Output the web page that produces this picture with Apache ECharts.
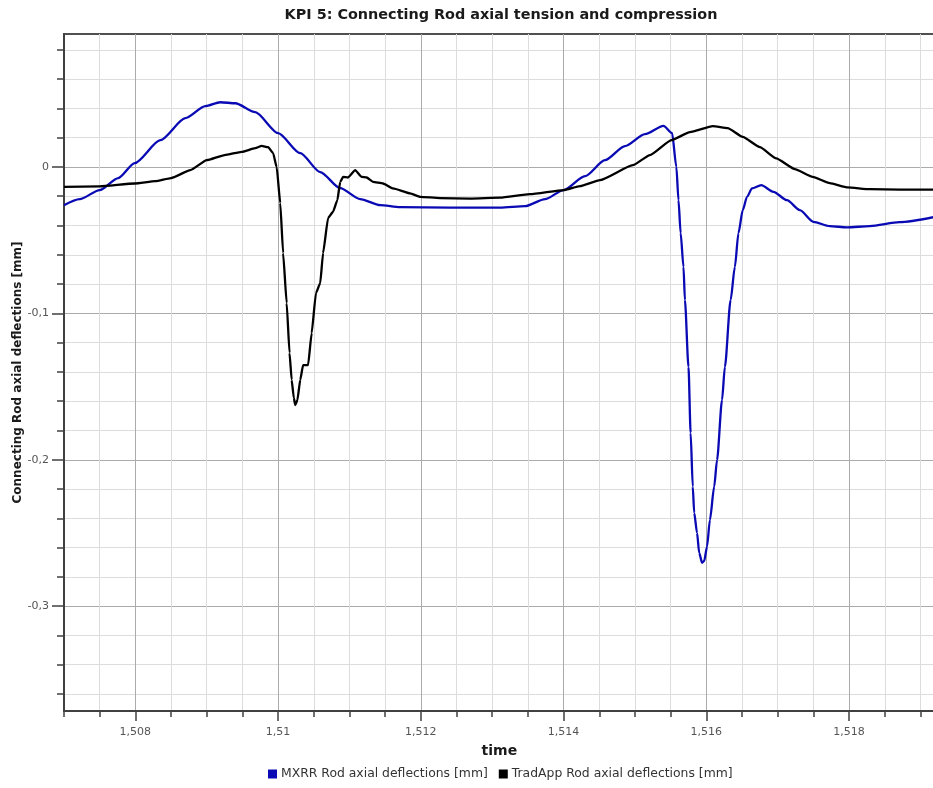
<!DOCTYPE html>
<html><head><meta charset="utf-8">
<script src="https://cdn.jsdelivr.net/npm/echarts@6/dist/echarts.min.js"></script>
<style>html,body{margin:0;padding:0;background:#fff}#c{width:933px;height:788px}</style>
</head><body><div id="c"></div>
<script>
// ---- text ----
const chartTitle = 'KPI 5: Connecting Rod axial tension and compression';
const xName = 'time';
const yName = 'Connecting Rod axial deflections [mm]';
const seriesNames = ['MXRR Rod axial deflections [mm]', 'TradApp Rod axial deflections [mm]'];
const seriesColors = ['#0a0ab4', '#000000'];

// ---- data ----
const mxrrX = [1.50700,1.50722,1.50750,1.50776,1.50799,1.50835,1.50870,1.50898,1.50919,1.50940,1.50968,1.51000,1.51031,1.51059,1.51087,1.51115,1.51143,1.51171,1.51241,1.51311,1.51346,1.51374,1.51400,1.51430,1.51458,1.51486,1.51514,1.51540,1.51552,1.51558,1.51561,1.51564,1.51568,1.51570,1.51575,1.51578,1.51581,1.51583,1.51587,1.51590,1.51594,1.51597,1.51601,1.51605,1.51611,1.51615,1.51622,1.51626,1.51634,1.51640,1.51645,1.51651,1.51657,1.51664,1.51677,1.51694,1.51713,1.51731,1.51750,1.51773,1.51797,1.51829,1.51871,1.51918];
const mxrrY = [-0.0261,-0.0220,-0.0158,-0.0076,0.0026,0.0183,0.0333,0.0415,0.0442,0.0435,0.0374,0.0231,0.0094,-0.0035,-0.0145,-0.0220,-0.0261,-0.0274,-0.0278,-0.0278,-0.0268,-0.0220,-0.0158,-0.0063,0.0046,0.0142,0.0224,0.0281,0.0231,0.0001,-0.0227,-0.0452,-0.0682,-0.0909,-0.1365,-0.1817,-0.2184,-0.2363,-0.2500,-0.2636,-0.2704,-0.2691,-0.2593,-0.2411,-0.2184,-0.2001,-0.1592,-0.1365,-0.0909,-0.0682,-0.0452,-0.0295,-0.0204,-0.0147,-0.0124,-0.0170,-0.0227,-0.0295,-0.0375,-0.0404,-0.0413,-0.0404,-0.0377,-0.0343];
const tradX = [1.50700,1.50750,1.50799,1.50828,1.50850,1.50877,1.50900,1.50925,1.50949,1.50968,1.50977,1.50986,1.50993,1.50998,1.51003,1.51007,1.51012,1.51016,1.51019,1.51022,1.51024,1.51027,1.51031,1.51035,1.51042,1.51047,1.51053,1.51059,1.51063,1.51070,1.51077,1.51083,1.51087,1.51091,1.51098,1.51108,1.51117,1.51124,1.51133,1.51147,1.51161,1.51185,1.51199,1.51227,1.51269,1.51311,1.51353,1.51400,1.51423,1.51451,1.51497,1.51521,1.51551,1.51577,1.51609,1.51630,1.51651,1.51675,1.51698,1.51724,1.51749,1.51773,1.51798,1.51829,1.51871,1.51918];
const tradY = [-0.0136,-0.0133,-0.0113,-0.0097,-0.0076,-0.0022,0.0046,0.0081,0.0103,0.0128,0.0144,0.0135,0.0094,-0.0001,-0.0247,-0.0588,-0.0930,-0.1271,-0.1455,-0.1578,-0.1626,-0.1592,-0.1455,-0.1353,-0.1353,-0.1135,-0.0862,-0.0793,-0.0588,-0.0349,-0.0306,-0.0227,-0.0102,-0.0068,-0.0072,-0.0022,-0.0068,-0.0072,-0.0102,-0.0113,-0.0147,-0.0181,-0.0204,-0.0213,-0.0216,-0.0210,-0.0186,-0.0158,-0.0131,-0.0090,0.0012,0.0081,0.0183,0.0238,0.0279,0.0265,0.0205,0.0135,0.0058,-0.0015,-0.0068,-0.0111,-0.0140,-0.0152,-0.0155,-0.0155];

// ---- axes / ticks ----
const xRange = [1.507, 1.5192];
const yRange = [-0.3716, 0.0908];
const xMinorStep = 0.0005;
const xMajorRange = [1.508, 1.518], xMajorStep = 0.002;
const yMinorRange = [-0.36, 0.08], yMinorStep = 0.02;
const yMajorRange = [-0.3, 0], yMajorStep = 0.1;

// ---- layout (pixels) ----
const L = 64, T = 34, B = 711;
const R = L + (xRange[1] - xRange[0]) * 71370; // plot extends past right edge
const px = x => L + (x - xRange[0]) / (xRange[1] - xRange[0]) * (R - L);
const py = y => B - (y - yRange[0]) / (yRange[1] - yRange[0]) * (B - T);

const fmt = v => String(+(+v).toFixed(4)).replace('.', ',');
const FONT = 'DejaVu Sans';
const minorCol = '#dcdcdc', majorCol = '#ababab', axisCol = '#404040';

const chart = echarts.init(document.getElementById('c'), null, {renderer: 'canvas'});
const hiddenAxis = (grid, mn, mx) => ({type: 'value', gridIndex: grid, min: mn, max: mx, show: false,
  axisLine: {show: false, onZero: false}, axisTick: {show: false}, axisLabel: {show: false}, splitLine: {show: false}});

chart.setOption({
  animation: false,
  backgroundColor: '#ffffff',
  title: {
    text: chartTitle, left: 501, top: 8, padding: 0, textAlign: 'center',
    textStyle: {fontFamily: FONT, fontSize: 14.4, fontWeight: 'bold', color: '#1a1a1a'}
  },
  legend: {
    left: 268, top: 768, padding: 0, icon: 'rect', itemWidth: 9, itemHeight: 9, itemGap: 11,
    textStyle: {fontFamily: FONT, fontSize: 12.4, color: '#333', padding: [0, 0, 0, -1]},
    data: seriesNames
  },
  grid: [
    {left: L, top: T, width: R - L, height: B - T, show: true, borderColor: '#505050', borderWidth: 2, backgroundColor: 'transparent', outerBoundsMode: 'none', containLabel: false},
    {left: px(xMajorRange[0]), top: T, width: px(xMajorRange[1]) - px(xMajorRange[0]), height: B - T, outerBoundsMode: 'none', containLabel: false},
    {left: L, top: py(yMinorRange[1]), width: R - L, height: py(yMinorRange[0]) - py(yMinorRange[1]), outerBoundsMode: 'none', containLabel: false},
    {left: L, top: py(yMajorRange[1]), width: R - L, height: py(yMajorRange[0]) - py(yMajorRange[1]), outerBoundsMode: 'none', containLabel: false}
  ],
  xAxis: [
    {type: 'value', gridIndex: 0, position: 'bottom', min: xRange[0], max: xRange[1], interval: xMinorStep,
     name: xName, nameLocation: 'middle', nameGap: 33,
     nameTextStyle: {fontFamily: FONT, fontSize: 14, fontWeight: 'bold', color: '#1a1a1a'},
     axisLine: {show: true, onZero: false, lineStyle: {color: axisCol, width: 2}},
     axisTick: {show: true, length: 6, lineStyle: {color: axisCol, width: 1.5}},
     axisLabel: {show: false},
     splitLine: {show: true, lineStyle: {color: minorCol, width: 1}}},
    {type: 'value', gridIndex: 1, position: 'bottom', min: xMajorRange[0], max: xMajorRange[1], interval: xMajorStep,
     axisLine: {show: false, onZero: false},
     axisTick: {show: true, length: 10, lineStyle: {color: axisCol, width: 1.5}},
     axisLabel: {show: true, margin: 16, formatter: fmt, fontFamily: FONT, fontSize: 11, color: '#555'},
     splitLine: {show: true, lineStyle: {color: majorCol, width: 1}}},
    hiddenAxis(2, xRange[0], xRange[1]),
    hiddenAxis(3, xRange[0], xRange[1])
  ],
  yAxis: [
    {type: 'value', gridIndex: 0, position: 'left', min: yRange[0], max: yRange[1],
     name: yName, nameLocation: 'middle', nameGap: 40,
     nameTextStyle: {fontFamily: FONT, fontSize: 12, fontWeight: 'bold', color: '#1a1a1a'},
     axisLine: {show: true, onZero: false, lineStyle: {color: axisCol, width: 2}},
     axisTick: {show: false}, axisLabel: {show: false}, splitLine: {show: false}},
    hiddenAxis(1, 0, 1),
    {type: 'value', gridIndex: 2, position: 'left', min: yMinorRange[0], max: yMinorRange[1], interval: yMinorStep,
     axisLine: {show: false, onZero: false},
     axisTick: {show: true, length: 7, lineStyle: {color: axisCol, width: 1.5}},
     axisLabel: {show: false},
     splitLine: {show: true, lineStyle: {color: minorCol, width: 1}}},
    {type: 'value', gridIndex: 3, position: 'left', min: yMajorRange[0], max: yMajorRange[1], interval: yMajorStep,
     axisLine: {show: false, onZero: false},
     axisTick: {show: true, length: 12, lineStyle: {color: axisCol, width: 1.5}},
     axisLabel: {show: true, margin: 15, formatter: fmt, fontFamily: FONT, fontSize: 11, color: '#555'},
     splitLine: {show: true, lineStyle: {color: majorCol, width: 1}}}
  ],
  series: [
    {name: seriesNames[0], type: 'line', xAxisIndex: 2, yAxisIndex: 2, showSymbol: false, symbol: 'none',
     smooth: 0.25, smoothMonotone: 'x', color: seriesColors[0], lineStyle: {color: seriesColors[0], width: 2.3},
     data: mxrrX.map((x, i) => [x, mxrrY[i]]), z: 5},
    {name: seriesNames[1], type: 'line', xAxisIndex: 2, yAxisIndex: 2, showSymbol: false, symbol: 'none',
     smooth: 0.15, smoothMonotone: 'x', color: seriesColors[1], lineStyle: {color: seriesColors[1], width: 2.3},
     data: tradX.map((x, i) => [x, tradY[i]]), z: 5}
  ]
});
</script>
</body></html>
